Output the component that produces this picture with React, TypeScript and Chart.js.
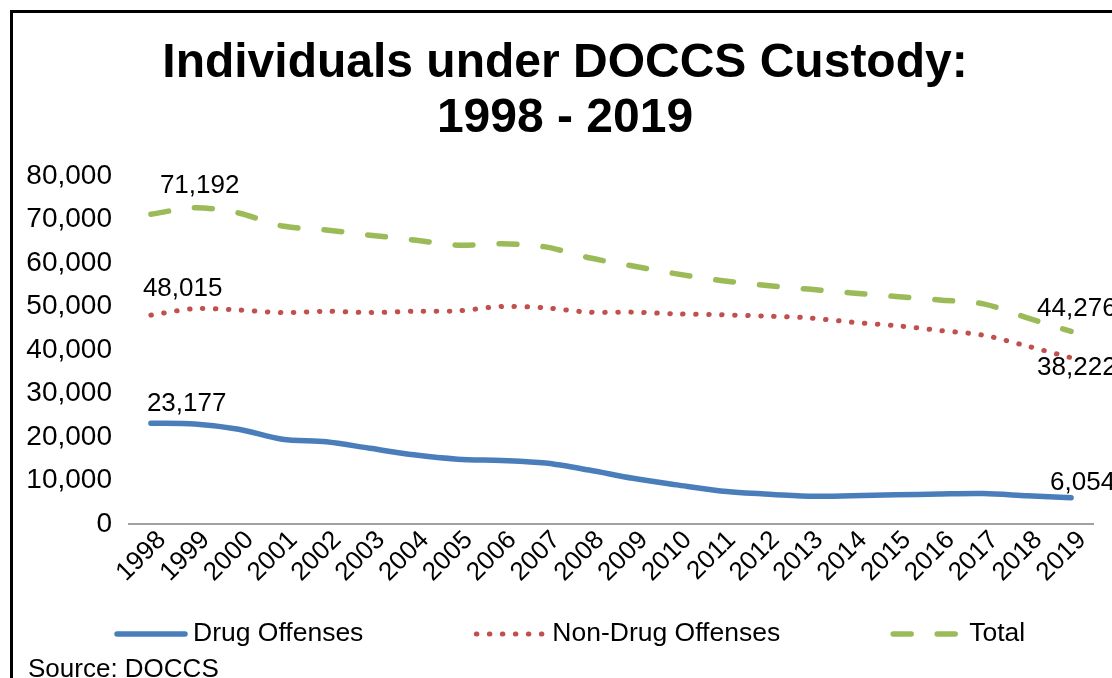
import React, { useEffect, useRef } from "react";
import { Chart, registerables } from "chart.js";

Chart.register(...registerables);

const years = [
  "1998", "1999", "2000", "2001", "2002", "2003", "2004", "2005", "2006", "2007", "2008",
  "2009", "2010", "2011", "2012", "2013", "2014", "2015", "2016", "2017", "2018", "2019",
];

const drugOffenses = [
  23177, 23000, 21800, 19500, 18900, 17400, 15900, 14900, 14600, 14000, 12400,
  10500, 9000, 7600, 6900, 6400, 6500, 6700, 6900, 7000, 6500, 6054,
];

const nonDrugOffenses = [
  48015, 49500, 49200, 48600, 48900, 48600, 48900, 49000, 50000, 49700, 48700,
  48700, 48300, 48100, 47800, 47400, 46400, 45600, 44500, 43400, 40900, 38222,
];

const totalCustody = [
  71192, 72700, 71500, 68500, 67600, 66400, 65300, 64100, 64400, 63700, 61200,
  59300, 57500, 56000, 54900, 54000, 53100, 52300, 51500, 50600, 47400, 44276,
];

const seriesNames = ["Drug Offenses", "Non-Drug Offenses", "Total"];
const titleLines = ["Individuals under DOCCS Custody:", "1998 - 2019"];
const sourceText = "Source: DOCCS";
const yMin = 0;
const yMax = 80000;
const yStep = 10000;

const FONT = "'Liberation Sans', Arial, Helvetica, sans-serif";
const TEXT_SIZE = 26;
const LEGEND_SIZE = 26.5;
const YTICK_SIZE = 28;

// label offsets (px) relative to first / last point of each series
const labelOffsets = [
  { first: [-4, -19], last: [-21, -15] },
  { first: [-8, -26], last: [-34, 10] },
  { first: [9, -28], last: [-34, -23] },
];

const fmt = (v: number) => v.toLocaleString("en-US");

const endLabelPlugin = {
  id: "endLabels",
  afterDatasetsDraw(chart: any) {
    const ctx = chart.ctx;
    ctx.save();
    ctx.font = `${TEXT_SIZE}px ${FONT}`;
    ctx.fillStyle = "#000";
    ctx.textBaseline = "middle";
    ctx.textAlign = "left";
    chart.data.datasets.forEach((ds: any, di: number) => {
      const meta = chart.getDatasetMeta(di);
      const off = labelOffsets[di];
      const p0 = meta.data[0];
      const p1 = meta.data[meta.data.length - 1];
      ctx.fillText(fmt(ds.data[0]), p0.x + off.first[0], p0.y + off.first[1]);
      ctx.fillText(fmt(ds.data[ds.data.length - 1]), p1.x + off.last[0], p1.y + off.last[1]);
    });
    ctx.restore();
  },
};

const LEGEND_START_X = 101;
const LEGEND_Y = 621;

const legendPlugin = {
  id: "bottomLegend",
  afterDraw(chart: any) {
    const ctx = chart.ctx;
    ctx.save();
    ctx.font = `${LEGEND_SIZE}px ${FONT}`;
    const sample = 74;
    const textGap = 5;
    const itemGap = 110;
    let x = LEGEND_START_X;
    chart.data.datasets.forEach((ds: any) => {
      const w = sample + textGap + ctx.measureText(ds.label).width;
      ctx.beginPath();
      ctx.strokeStyle = ds.borderColor;
      ctx.lineWidth = ds.borderWidth;
      ctx.lineCap = ds.borderCapStyle || "butt";
      ctx.setLineDash(ds.borderDash || []);
      ctx.moveTo(x + 3, LEGEND_Y);
      ctx.lineTo(x + sample - 3, LEGEND_Y);
      ctx.stroke();
      ctx.setLineDash([]);
      ctx.fillStyle = "#000";
      ctx.textBaseline = "middle";
      ctx.textAlign = "left";
      ctx.fillText(ds.label, x + sample + textGap, LEGEND_Y);
      x += w + itemGap;
    });
    ctx.font = `${TEXT_SIZE}px ${FONT}`;
    ctx.textBaseline = "alphabetic";
    ctx.fillText(sourceText, 15, 664);
    ctx.restore();
  },
};

export default function App() {
  const canvasRef = useRef<HTMLCanvasElement>(null);

  useEffect(() => {
    if (!canvasRef.current) return;
    Chart.defaults.font.family = FONT;
    Chart.defaults.color = "#000";
    const chart = new Chart(canvasRef.current, {
      type: "line",
      data: {
        labels: years,
        datasets: [
          {
            label: seriesNames[0],
            data: drugOffenses,
            borderColor: "#4a7ebb",
            borderWidth: 5.5,
            borderCapStyle: "round",
            borderJoinStyle: "round",
            pointRadius: 0,
            tension: 0.3,
            fill: false,
          },
          {
            label: seriesNames[1],
            data: nonDrugOffenses,
            borderColor: "#c0504d",
            borderWidth: 5,
            borderCapStyle: "round",
            borderDash: [0.5, 12.5],
            pointRadius: 0,
            tension: 0.3,
            fill: false,
          },
          {
            label: seriesNames[2],
            data: totalCustody,
            borderColor: "#9bbb59",
            borderWidth: 5.5,
            borderCapStyle: "round",
            borderDash: [18, 26],
            pointRadius: 0,
            tension: 0.3,
            fill: false,
          },
        ],
      },
      options: {
        animation: false,
        responsive: true,
        maintainAspectRatio: false,
        layout: { padding: { left: 0, right: 0, top: 0, bottom: 119 } },
        plugins: {
          legend: { display: false },
          tooltip: { enabled: false },
          title: {
            display: true,
            text: titleLines,
            color: "#000",
            font: { size: 48, weight: "bold", family: FONT, lineHeight: 55 / 48 },
            padding: { top: 23.5, bottom: 29.5 },
          },
        },
        scales: {
          x: {
            offset: true,
            grid: { display: false, drawTicks: false },
            border: { display: true, color: "#a0a0a0", width: 2 },
            ticks: {
              minRotation: 45,
              maxRotation: 45,
              autoSkip: false,
              padding: 1,
              labelOffset: 11,
              color: "#000",
              font: { size: TEXT_SIZE, family: FONT },
            },
            afterFit: (scale: any) => {
              scale.height = 70;
            },
          },
          y: {
            min: yMin,
            max: yMax,
            grid: { display: false, drawTicks: false },
            border: { display: false },
            ticks: {
              stepSize: yStep,
              padding: 17,
              color: "#000",
              font: { size: YTICK_SIZE, family: FONT },
              callback: (v: any) => fmt(Number(v)),
            },
            afterFit: (scale: any) => {
              scale.width = 116;
            },
          },
          yRightSpacer: {
            position: "right",
            min: yMin,
            max: yMax,
            grid: { display: false, drawTicks: false },
            border: { display: false },
            ticks: { display: false },
            afterFit: (scale: any) => {
              scale.width = 24;
            },
          },
        },
      },
      plugins: [endLabelPlugin, legendPlugin],
    } as any);
    return () => chart.destroy();
  }, []);

  return (
    <div
      style={{
        position: "fixed",
        left: 0,
        top: 0,
        width: 1112,
        height: 678,
        overflow: "hidden",
        background: "#fff",
      }}
    >
      <div
        style={{
          position: "absolute",
          left: 10,
          top: 10,
          width: 1104,
          height: 700,
          border: "3px solid #000",
          background: "#fff",
        }}
      >
        <div style={{ position: "relative", width: 1104, height: 700 }}>
          <canvas ref={canvasRef} />
        </div>
      </div>
    </div>
  );
}
